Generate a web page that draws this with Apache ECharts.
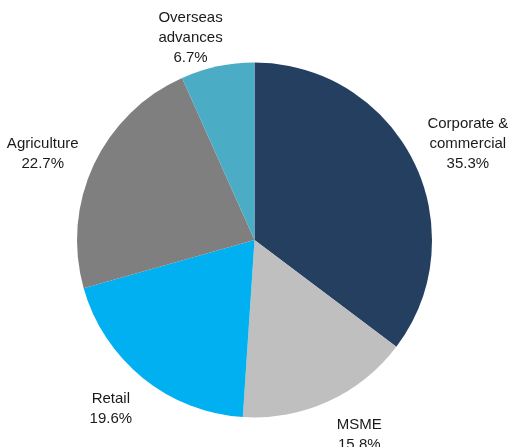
<!DOCTYPE html>
<html>
<head>
<meta charset="utf-8">
<script src="https://cdn.jsdelivr.net/npm/echarts@6/dist/echarts.min.js"></script>
<style>html,body{margin:0;padding:0;background:#fff}#c{width:508px;height:447px}</style>
</head>
<body>
<div id="c"></div>
<script>
var categories = ['Corporate &\ncommercial', 'MSME', 'Retail', 'Agriculture', 'Overseas\nadvances'];
var values = [35.3, 15.8, 19.6, 22.7, 6.7];
var colors = ['#243F60', '#BFBFBF', '#00B0F0', '#7F7F7F', '#4BACC6'];
var labelOffsets = [[12, 4], [11, -10], [-2, -6], [-8, 9], [-17, 18]];

var chart = echarts.init(document.getElementById('c'), null, {renderer: 'canvas'});
var center = [254.5, 240];
var mainData = categories.map(function (n, i) {
  return {name: n, value: values[i], itemStyle: {color: colors[i]}};
});
var labelData = categories.map(function (n, i) {
  return {name: n, value: values[i], label: {offset: labelOffsets[i]}};
});
chart.setOption({
  animation: false,
  series: [
    {
      type: 'pie',
      center: center,
      radius: [0, 177.5],
      startAngle: 90,
      clockwise: true,
      label: {show: false},
      labelLine: {show: false},
      itemStyle: {borderWidth: 0},
      silent: true,
      data: mainData
    },
    {
      type: 'pie',
      center: center,
      radius: [202, 242],
      startAngle: 90,
      clockwise: true,
      silent: true,
      itemStyle: {color: 'rgba(0,0,0,0)'},
      labelLine: {show: false},
      label: {
        show: true,
        position: 'inside',
        rotate: 0,
        formatter: function (p) { return p.name + '\n' + p.value.toFixed(1) + '%'; },
        fontFamily: 'Liberation Sans, Arial, sans-serif',
        fontSize: 15,
        lineHeight: 20,
        color: '#1a1a1a',
        align: 'center',
        verticalAlign: 'middle'
      },
      data: labelData
    }
  ]
});
</script>
</body>
</html>
